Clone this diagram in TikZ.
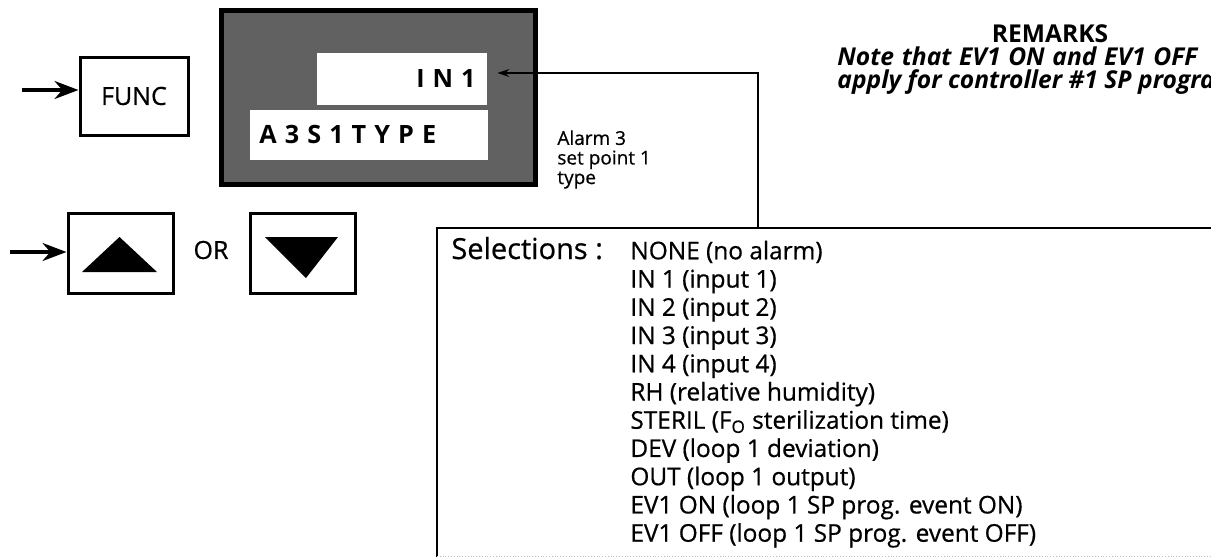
\documentclass[tikz,border=0pt]{standalone}
\usepackage{fontspec}
\setmainfont{Open Sans}[UprightFeatures={FakeBold=0.6}]
\newfontfamily\lcdfont{Open Sans}[LetterSpace=32]
\usetikzlibrary{positioning,arrows.meta}

\begin{document}
\begin{tikzpicture}[
  x=0.5pt, y=-0.5pt,
  key/.style={rectangle, draw, line width=1.5pt, inner sep=0pt, fill=white},
  lcd/.style={rectangle, draw, line width=2.5pt, fill=black!62, inner sep=0pt},
  win/.style={rectangle, fill=white, inner sep=0pt},
  lcdtxt/.style={font=\lcdfont\bfseries\fontsize{12.6}{14}\selectfont, inner sep=0pt},
  keytxt/.style={font=\fontsize{12.5}{14}\selectfont, inner sep=0pt},
  push/.style={-{Stealth[length=12pt,width=9pt]}, line width=1.6pt},
  link/.style={-{Stealth[length=6pt,width=4pt]}, line width=0.8pt},
  item/.style={font=\fontsize{12.2}{14}\selectfont, inner sep=0pt, anchor=base west},
  note/.style={font=\fontsize{9.5}{9.8}\selectfont, align=left, inner sep=0pt},
  rem/.style={font=\bfseries\fontsize{12.3}{14}\selectfont, inner sep=0pt},
]
  \clip (0,0) rectangle (1211,558);

  % --- FUNC key ---
  \node[key, minimum width=54pt, minimum height=39pt] (func) at (134,96) {};
  \node[keytxt] (functxt) at (func) {FUNC};
  \coordinate (fin) at (22,90);
  \draw[push] (fin) -- (fin -| func.west);

  % --- display ---
  \node[lcd, minimum width=157pt, minimum height=87pt] (disp) at (378,97.5) {};
  \node[win, minimum width=85pt, minimum height=26pt] (in1) at (402,79) {};
  \node[win, minimum width=119pt, minimum height=25pt] (a3) at (369,135) {};
  \node[lcdtxt, anchor=base east] (in1txt) at (476,87) {IN1};
  \node[lcdtxt, anchor=base west] (a3txt) at (259,143) {A3S1TYPE};
  \node[note, anchor=north west] (alarm) at (557,130) {Alarm 3\\set point 1\\type};

  % --- up / down keys ---
  \node[key, minimum width=52.5pt, minimum height=40pt] (up) at (120.5,253) {};
  \node[key, minimum width=52.5pt, minimum height=40pt] (down) at (302.5,253) {};
  \fill[shift={(up.center)}] (-38.5,19) -- (36.5,19) -- (-1,-16) -- cycle;
  \fill[shift={(down.center)}] (-37.5,-16) -- (35.5,-16) -- (3.5,25) -- cycle;
  \node[keytxt] (or) at (211,250) {OR};
  \coordinate (uin) at (10,252);
  \draw[push] (uin) -- (uin -| up.west);

  % --- selections box ---
  \node[rectangle, inner sep=0pt, minimum width=420pt, minimum height=164pt,
        anchor=north west] (sel) at (437,228) {};
  \draw[line width=1.2pt] (sel.south west) -- (sel.north west) -- (sel.north east);
  \draw[black!25, densely dotted] (sel.south west) -- (sel.south east);
  \node[font=\fontsize{14.5}{16}\selectfont, inner sep=0pt, anchor=base west]
    (seltxt) at (451,259) {Selections :};
  \foreach \txt [count=\i from 0] in {NONE (no alarm), IN 1 (input 1),
      IN 2 (input 2), IN 3 (input 3), IN 4 (input 4), RH (relative humidity),
      STERIL (F\textsubscript{O} sterilization time), DEV (loop 1 deviation),
      OUT (loop 1 output), EV1 ON (loop 1 SP prog. event ON),
      EV1 OFF (loop 1 SP prog. event OFF)}
    \node[item] (opt\i) at (630,259.3+28.24*\i) {\txt};

  % connector to the IN1 window
  \coordinate (tap) at (758,73);
  \draw[link] (tap |- sel.north) -- (tap) -- ([xshift=5pt]in1.east |- tap);

  % --- remarks ---
  \node[rem, anchor=base] (remhead) at (1050,42) {REMARKS};
  \node[rem, anchor=base west] (rem1) at (837,65)
    {\itshape\makebox[180pt][s]{Note that EV1 ON and EV1 OFF}};
  \node[rem, anchor=base west] (rem2) at (837,88) {\itshape apply for controller \#1 SP programmer};
\end{tikzpicture}
\end{document}
